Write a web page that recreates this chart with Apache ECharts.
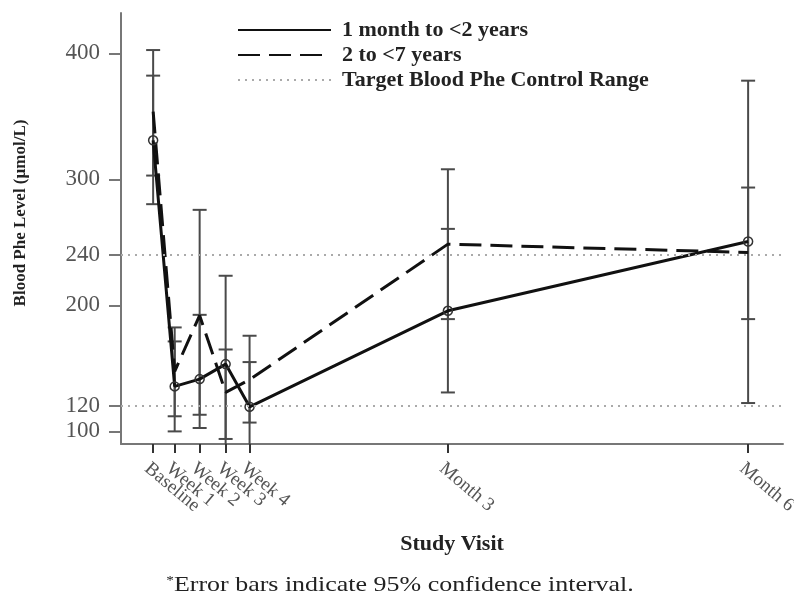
<!DOCTYPE html>
<html>
<head>
<meta charset="utf-8">
<script src="https://cdn.jsdelivr.net/npm/echarts@6/dist/echarts.min.js"></script>
<style>
html,body{margin:0;padding:0;background:#fff;}
#chart{width:794px;height:598px;}
</style>
</head>
<body>
<div id="chart"></div>
<script>
// ---- data ----
// x position of each visit, in study days (baseline = day 1)
const visitNames = ['Baseline', 'Week 1', 'Week 2', 'Week 3', 'Week 4', 'Month 3', 'Month 6'];
const visitDay = [1, 7.3, 14.6, 22.2, 29.2, 87.2, 175];
const youngMean = [331, 135.7, 141.5, 153.4, 119.5, 195.7, 250.7];
const youngLow  = [280.3, 100, 102.7, 82, 84.5, 130.9, 122.5];
const youngHigh = [382.3, 171.4, 192.5, 223.5, 155, 260.7, 378.3];
const olderMean = [353.8, 147.6, 192, 131, 141, 248.6, 242];
const olderLow  = [303, 112, 113.2, 94, 107, 189.1, 189.1];
const olderHigh = [402.6, 182.5, 275.8, 165, 175.9, 308, 293.5];
const yTicks = [100, 120, 200, 240, 300, 400];
const targetRange = [120, 240];
const seriesNames = ['1 month to <2 years', '2 to <7 years', 'Target Blood Phe Control Range'];

const Y_MIN = 90, Y_MAX = 432;
const X_MIN = -8.4, X_MAX = 185.2;
const serif = '"Liberation Serif", "Times New Roman", serif';

// an empty label at the axis start keeps the overlapping rotated visit labels all visible
const xLabelValues = [X_MIN].concat(visitDay);

function pairs(xs, ys) { return xs.map((x, i) => [x, ys[i]]); }
function barData(xs, lo, hi) { return xs.map((x, i) => [x, lo[i], hi[i]]); }

function errorBar(params, api) {
  const x = api.value(0), lo = api.value(1), hi = api.value(2);
  const top = api.coord([x, hi]);
  const botClamped = lo < Y_MIN;
  const bot = api.coord([x, Math.max(lo, Y_MIN)]);
  const hw = 7;
  const style = { stroke: '#4a4a4a', lineWidth: 2 };
  const children = [
    { type: 'line', shape: { x1: top[0], y1: top[1], x2: bot[0], y2: bot[1] }, style: style },
    { type: 'line', shape: { x1: top[0] - hw, y1: top[1], x2: top[0] + hw, y2: top[1] }, style: style }
  ];
  if (!botClamped) {
    children.push({ type: 'line', shape: { x1: bot[0] - hw, y1: bot[1], x2: bot[0] + hw, y2: bot[1] }, style: style });
  }
  return { type: 'group', children: children };
}

const chart = echarts.init(document.getElementById('chart'), null, { renderer: 'canvas' });
chart.setOption({
  backgroundColor: '#fff',
  animation: false,
  grid: { left: 121, right: 11, top: 13, bottom: 154, containLabel: false, outerBoundsMode: 'none' },
  legend: {
    orient: 'vertical',
    left: 237, top: 19, padding: 0,
    itemWidth: 93, itemHeight: 16, itemGap: 3,
    data: seriesNames,
    selectedMode: false,
    itemStyle: { opacity: 0 },
    textStyle: { fontFamily: serif, fontWeight: 'bold', fontSize: 22, color: '#222', lineHeight: 16, padding: [0, 0, 0, 6] }
  },
  xAxis: {
    type: 'value', min: X_MIN, max: X_MAX,
    axisLine: { show: true, onZero: false, lineStyle: { color: '#777', width: 2 } },
    axisTick: { show: true, length: 9, customValues: visitDay.slice(), lineStyle: { color: '#333', width: 2 } },
    axisLabel: {
      customValues: xLabelValues, hideOverlap: false,
      rotate: -40, margin: 15, verticalAlign: 'top',
      fontFamily: serif, fontSize: 19, color: '#555',
      formatter: function (v) {
        for (let i = 0; i < visitDay.length; i++) {
          if (Math.abs(visitDay[i] - v) < 0.01) return visitNames[i];
        }
        return '';
      }
    },
    splitLine: { show: false },
    name: 'Study Visit', nameLocation: 'middle', nameGap: 89,
    nameTextStyle: { fontFamily: serif, fontWeight: 'bold', fontSize: 22, color: '#222' }
  },
  yAxis: {
    type: 'value', min: Y_MIN, max: Y_MAX,
    axisLine: { show: true, onZero: false, lineStyle: { color: '#777', width: 2 } },
    axisTick: { show: true, length: 12, customValues: yTicks, lineStyle: { color: '#777', width: 2 } },
    axisLabel: { customValues: yTicks, hideOverlap: false, showMinLabel: true, margin: 21, fontFamily: serif, fontSize: 23, color: '#555' },
    splitLine: { show: false }
  },
  graphic: [
    {
      type: 'text', x: 21, y: 213, rotation: Math.PI / 2,
      style: {
        text: 'Blood Phe Level (\u00b5mol/L)', fontFamily: serif, fontWeight: 'bold', fontSize: 17,
        fill: '#222', align: 'center', verticalAlign: 'middle'
      }
    },
    {
      type: 'text', x: 400, y: 585, scaleX: 1.18,
      style: {
        text: '{s|*}Error bars indicate 95% confidence interval.',
        fontFamily: serif, fontSize: 22, fill: '#222', align: 'center', verticalAlign: 'middle',
        rich: { s: { fontFamily: serif, fontSize: 13, verticalAlign: 'top', padding: [0, 0, 8, 0] } }
      }
    }
  ],
  series: [
    {
      name: 'ci-young', type: 'custom', renderItem: errorBar, z: 1,
      encode: { x: 0, y: [1, 2] }, data: barData(visitDay, youngLow, youngHigh)
    },
    {
      name: 'ci-older', type: 'custom', renderItem: errorBar, z: 1,
      encode: { x: 0, y: [1, 2] }, data: barData(visitDay, olderLow, olderHigh)
    },
    {
      name: 'older-line', type: 'line', z: 3, data: pairs(visitDay, olderMean),
      symbol: 'none',
      lineStyle: { color: '#111', width: 3, type: [22, 9] }
    },
    {
      name: 'young-line', type: 'line', z: 4, data: pairs(visitDay, youngMean),
      symbol: 'circle', symbolSize: 9,
      itemStyle: { color: 'rgba(255,255,255,0)', borderColor: '#333', borderWidth: 1.5 },
      lineStyle: { color: '#111', width: 3 }
    },
    {
      name: seriesNames[0], type: 'line', data: [], symbol: 'none',
      lineStyle: { color: '#111', width: 3 }, itemStyle: { color: '#111', opacity: 0 }
    },
    {
      name: seriesNames[1], type: 'line', data: [], symbol: 'none',
      lineStyle: { color: '#111', width: 3, type: [22, 9] }, itemStyle: { color: '#111', opacity: 0 }
    },
    {
      name: seriesNames[2], type: 'line', data: [], symbol: 'none', z: 0,
      lineStyle: { color: '#aaa', width: 2, type: [2, 5] }, itemStyle: { color: '#aaa', opacity: 0 },
      markLine: {
        silent: true, symbol: 'none', label: { show: false },
        lineStyle: { color: '#aaa', width: 2, type: [2, 5], opacity: 1 },
        data: targetRange.map(v => ({ yAxis: v }))
      }
    }
  ]
});
</script>
</body>
</html>
